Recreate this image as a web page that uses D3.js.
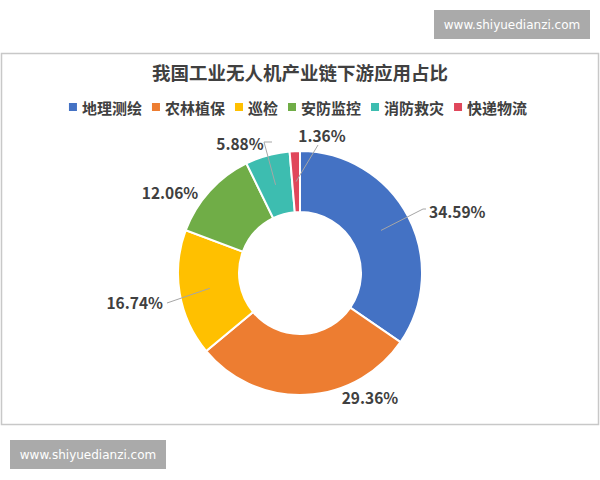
<!DOCTYPE html>
<html>
<head>
<meta charset="utf-8">
<script src="https://cdn.jsdelivr.net/npm/d3@7/dist/d3.min.js"></script>
<style>
  html, body { margin: 0; padding: 0; background: #ffffff; }
  svg { display: block; }
</style>
</head>
<body>
<script>
// ---- data ----
const title = "我国工业无人机产业链下游应用占比";
const categories = ["地理测绘", "农林植保", "巡检", "安防监控", "消防救灾", "快递物流"];
const values = [34.59, 29.36, 16.74, 12.06, 5.88, 1.36];
const valueLabels = ["34.59%", "29.36%", "16.74%", "12.06%", "5.88%", "1.36%"];
const colors = ["#4472C4", "#ED7D31", "#FFC000", "#70AD47", "#3DBDB0", "#E0475B"];
const watermark = "www.shiyuedianzi.com";

// ---- layout (label placement relative to donut centre) ----
const labelLayout = [
  { dx: 129, dy: -62, anchor: "start", leader: [[123, -64], [126, -64]] },
  { dx: 70, dy: 124, anchor: "middle", leader: null },
  { dx: -137, dy: 29, anchor: "end", leader: [[-133, 30]] },
  { dx: -130, dy: -81, anchor: "middle", leader: null },
  { dx: -60, dy: -130, anchor: "middle", leader: [[-36, -131], [-28, -131]] },
  { dx: 22, dy: -138, anchor: "middle", leader: [[18, -128]] }
];

const W = 600, H = 480;
const svg = d3.select("body").append("svg").attr("width", W).attr("height", H);
const font = "'Noto Sans CJK SC', 'Noto Sans', sans-serif";

// top-right watermark box
svg.append("rect").attr("x", 434).attr("y", 10).attr("width", 156).attr("height", 29).attr("fill", "#aaaaaa");
svg.append("text").attr("x", 512).attr("y", 25).attr("text-anchor", "middle").attr("dominant-baseline", "central")
  .attr("fill", "#ffffff").attr("font-family", "'DejaVu Sans', sans-serif").attr("font-size", 12).text(watermark);

// frame
svg.append("rect").attr("x", 1.5).attr("y", 53.5).attr("width", 597).attr("height", 371)
  .attr("fill", "#ffffff").attr("stroke", "#c8c8c8").attr("stroke-width", 1.5);

// bottom-left watermark box
svg.append("rect").attr("x", 10).attr("y", 440).attr("width", 156).attr("height", 29).attr("fill", "#aaaaaa");
svg.append("text").attr("x", 88).attr("y", 455).attr("text-anchor", "middle").attr("dominant-baseline", "central")
  .attr("fill", "#ffffff").attr("font-family", "'DejaVu Sans', sans-serif").attr("font-size", 12).text(watermark);

// title
svg.append("text").attr("x", 300).attr("y", 72).attr("text-anchor", "middle").attr("dominant-baseline", "central")
  .attr("font-family", font).attr("font-size", 18.5).attr("font-weight", "bold").attr("fill", "#404040").text(title);

// legend
const legend = svg.append("g").attr("font-family", font).attr("font-size", 15).attr("fill", "#404040");
const sq = 8, gapSq = 5, gapItem = 10;
const items = legend.selectAll("g").data(categories).join("g");
items.append("rect").attr("width", sq).attr("height", sq).attr("y", -sq / 2).attr("fill", (d, i) => colors[i]);
items.append("text").attr("x", sq + gapSq).attr("dominant-baseline", "central").attr("font-weight", 600).text(d => d);
let xCursor = 0;
const widths = [];
items.each(function () {
  const tw = d3.select(this).select("text").node().getComputedTextLength();
  widths.push(sq + gapSq + tw);
});
const totalW = d3.sum(widths) + gapItem * (widths.length - 1);
xCursor = 298 - totalW / 2;
items.attr("transform", (d, i) => {
  const x = xCursor;
  xCursor += widths[i] + gapItem;
  return `translate(${x},107)`;
});

// donut
const cx = 300, cy = 273, rOuter = 122, rInner = 61;
const pie = d3.pie().sort(null).value(d => d);
const arcs = pie(values);
const arc = d3.arc().innerRadius(rInner).outerRadius(rOuter);
const g = svg.append("g").attr("transform", `translate(${cx},${cy})`);
g.selectAll("path").data(arcs).join("path")
  .attr("d", arc).attr("fill", (d, i) => colors[i])
  .attr("stroke", "#ffffff").attr("stroke-width", 2);

// leader lines: from slice centroid out to the label
arcs.forEach((a, i) => {
  const L = labelLayout[i];
  if (!L.leader) return;
  const ordered = [arc.centroid(a)].concat(L.leader);
  g.append("path").attr("d", d3.line()(ordered))
    .attr("fill", "none").attr("stroke", "#a6a6a6").attr("stroke-width", 1);
});

// labels
g.selectAll("text.lbl").data(arcs).join("text").attr("class", "lbl")
  .attr("x", (d, i) => labelLayout[i].dx)
  .attr("y", (d, i) => labelLayout[i].dy)
  .attr("text-anchor", (d, i) => labelLayout[i].anchor)
  .attr("dominant-baseline", "central")
  .attr("font-family", font).attr("font-size", 15.5).attr("font-weight", 600)
  .attr("fill", "#404040")
  .text((d, i) => valueLabels[i]);
</script>
</body>
</html>
